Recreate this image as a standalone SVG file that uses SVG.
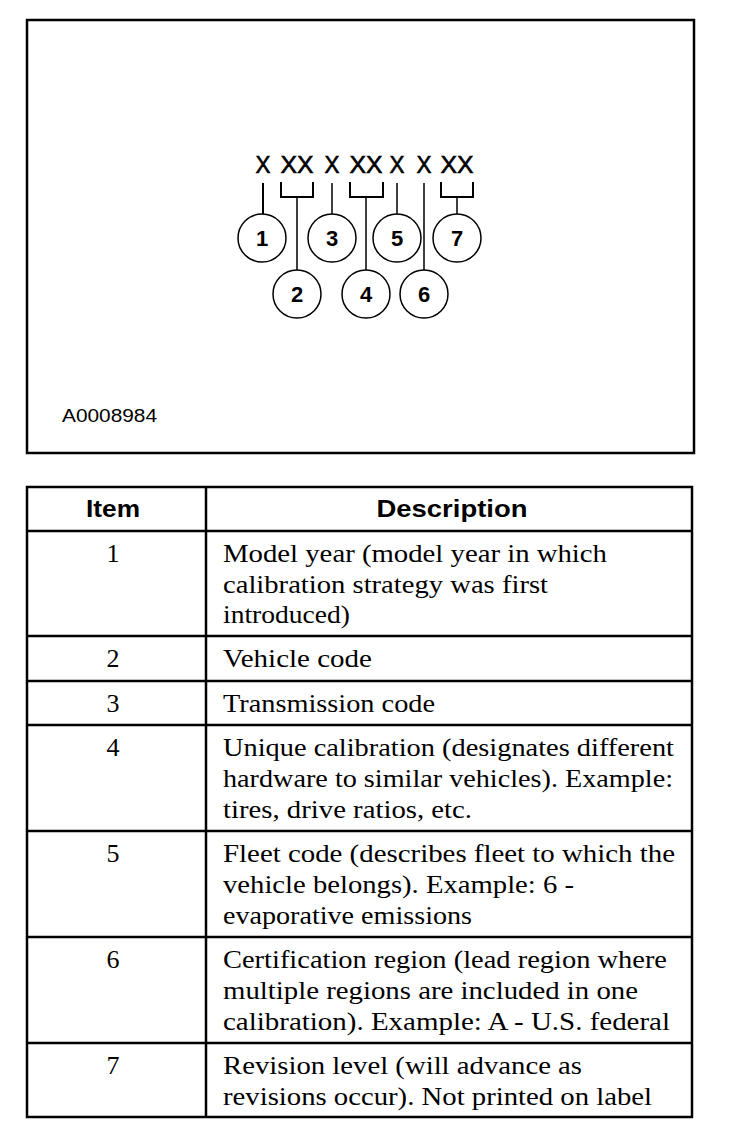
<svg xmlns="http://www.w3.org/2000/svg" width="736" height="1134" viewBox="0 0 736 1134">
<style>
.frame{fill:none;stroke:#000;stroke-width:2.5}
.grid{stroke:#000;stroke-width:2.5;fill:none}
.ln{stroke:#000;stroke-width:1.5;fill:none}
.br{stroke:#000;stroke-width:2;fill:none}
.cir{fill:#fff;stroke:#000;stroke-width:1.5}
.num{font-family:"Liberation Sans",Arial,sans-serif;font-weight:bold;font-size:22px;text-anchor:middle}
.x{font-family:"Liberation Sans",Arial,sans-serif;font-size:24px;text-anchor:middle;stroke:#000;stroke-width:0.6}
.hd{font-family:"Liberation Sans",Arial,sans-serif;font-weight:bold;font-size:24px;text-anchor:middle}
.it{font-family:"Liberation Serif","Times New Roman",serif;font-size:26px;text-anchor:middle}
.ds{font-family:"Liberation Serif","Times New Roman",serif;font-size:26px}
.fig{font-family:"Liberation Sans",Arial,sans-serif;font-size:19px}
</style>
<rect class="frame" x="27" y="20" width="667" height="433"/>
<g id="code">
<text class="x" x="263" y="173" textLength="15" lengthAdjust="spacingAndGlyphs">X</text>
<text class="x" x="297" y="173" textLength="33" lengthAdjust="spacingAndGlyphs">XX</text>
<text class="x" x="332" y="173" textLength="15" lengthAdjust="spacingAndGlyphs">X</text>
<text class="x" x="366" y="173" textLength="33" lengthAdjust="spacingAndGlyphs">XX</text>
<text class="x" x="397" y="173" textLength="15" lengthAdjust="spacingAndGlyphs">X</text>
<text class="x" x="424" y="173" textLength="15" lengthAdjust="spacingAndGlyphs">X</text>
<text class="x" x="457" y="173" textLength="33" lengthAdjust="spacingAndGlyphs">XX</text>
</g>
<g id="connectors">
<line class="br" x1="263" y1="183" x2="263" y2="214"/>
<path class="br" d="M281,182 V197 H313 V182"/>
<line class="ln" x1="297" y1="197" x2="297" y2="270"/>
<line class="ln" x1="332" y1="183" x2="332" y2="214"/>
<path class="br" d="M350,182 V197 H383 V182"/>
<line class="ln" x1="366" y1="197" x2="366" y2="270"/>
<line class="ln" x1="397" y1="183" x2="397" y2="214"/>
<line class="ln" x1="424" y1="183" x2="424" y2="270"/>
<path class="br" d="M441,182 V197 H473 V182"/>
<line class="ln" x1="457" y1="197" x2="457" y2="214"/>
</g>
<g id="n1"><ellipse class="cir" cx="262" cy="238" rx="24" ry="24"/><text class="num" x="262" y="246">1</text></g>
<g id="n2"><ellipse class="cir" cx="297" cy="294" rx="24" ry="24"/><text class="num" x="297" y="302">2</text></g>
<g id="n3"><ellipse class="cir" cx="332" cy="238" rx="24" ry="24"/><text class="num" x="332" y="246">3</text></g>
<g id="n4"><ellipse class="cir" cx="366" cy="294" rx="24" ry="24"/><text class="num" x="366" y="302">4</text></g>
<g id="n5"><ellipse class="cir" cx="397" cy="238" rx="24" ry="24"/><text class="num" x="397" y="246">5</text></g>
<g id="n6"><ellipse class="cir" cx="424" cy="294" rx="24" ry="24"/><text class="num" x="424" y="302">6</text></g>
<g id="n7"><ellipse class="cir" cx="457" cy="238" rx="24" ry="24"/><text class="num" x="457" y="246">7</text></g>
<text class="fig" x="62" y="422" textLength="95" lengthAdjust="spacingAndGlyphs">A0008984</text>
<g id="table">
<rect class="grid" x="27" y="487" width="665" height="630"/>
<line class="grid" x1="206" y1="487" x2="206" y2="1117"/>
<line class="grid" x1="27" y1="531" x2="692" y2="531"/>
<line class="grid" x1="27" y1="636" x2="692" y2="636"/>
<line class="grid" x1="27" y1="681" x2="692" y2="681"/>
<line class="grid" x1="27" y1="725" x2="692" y2="725"/>
<line class="grid" x1="27" y1="831" x2="692" y2="831"/>
<line class="grid" x1="27" y1="937" x2="692" y2="937"/>
<line class="grid" x1="27" y1="1043" x2="692" y2="1043"/>
<text class="hd" x="113" y="517" textLength="54" lengthAdjust="spacingAndGlyphs">Item</text>
<text class="hd" x="452" y="517" textLength="151" lengthAdjust="spacingAndGlyphs">Description</text>
<text class="it" x="113" y="562">1</text>
<text class="it" x="113" y="667">2</text>
<text class="it" x="113" y="712">3</text>
<text class="it" x="113" y="756">4</text>
<text class="it" x="113" y="862">5</text>
<text class="it" x="113" y="968">6</text>
<text class="it" x="113" y="1074">7</text>
<text class="ds" x="223" y="562" textLength="384" lengthAdjust="spacingAndGlyphs">Model year (model year in which</text>
<text class="ds" x="223" y="593" textLength="325" lengthAdjust="spacingAndGlyphs">calibration strategy was first</text>
<text class="ds" x="223" y="623" textLength="127" lengthAdjust="spacingAndGlyphs">introduced)</text>
<text class="ds" x="223" y="667" textLength="149" lengthAdjust="spacingAndGlyphs">Vehicle code</text>
<text class="ds" x="223" y="712" textLength="212" lengthAdjust="spacingAndGlyphs">Transmission code</text>
<text class="ds" x="223" y="756" textLength="451" lengthAdjust="spacingAndGlyphs">Unique calibration (designates different</text>
<text class="ds" x="223" y="787" textLength="450" lengthAdjust="spacingAndGlyphs">hardware to similar vehicles). Example:</text>
<text class="ds" x="223" y="818" textLength="249" lengthAdjust="spacingAndGlyphs">tires, drive ratios, etc.</text>
<text class="ds" x="223" y="862" textLength="452" lengthAdjust="spacingAndGlyphs">Fleet code (describes fleet to which the</text>
<text class="ds" x="223" y="893" textLength="351" lengthAdjust="spacingAndGlyphs">vehicle belongs). Example: 6 -</text>
<text class="ds" x="223" y="924" textLength="249" lengthAdjust="spacingAndGlyphs">evaporative emissions</text>
<text class="ds" x="223" y="968" textLength="444" lengthAdjust="spacingAndGlyphs">Certification region (lead region where</text>
<text class="ds" x="223" y="999" textLength="415" lengthAdjust="spacingAndGlyphs">multiple regions are included in one</text>
<text class="ds" x="223" y="1030" textLength="447" lengthAdjust="spacingAndGlyphs">calibration). Example: A - U.S. federal</text>
<text class="ds" x="223" y="1074" textLength="359" lengthAdjust="spacingAndGlyphs">Revision level (will advance as</text>
<text class="ds" x="223" y="1105" textLength="429" lengthAdjust="spacingAndGlyphs">revisions occur). Not printed on label</text>
</g>
</svg>
